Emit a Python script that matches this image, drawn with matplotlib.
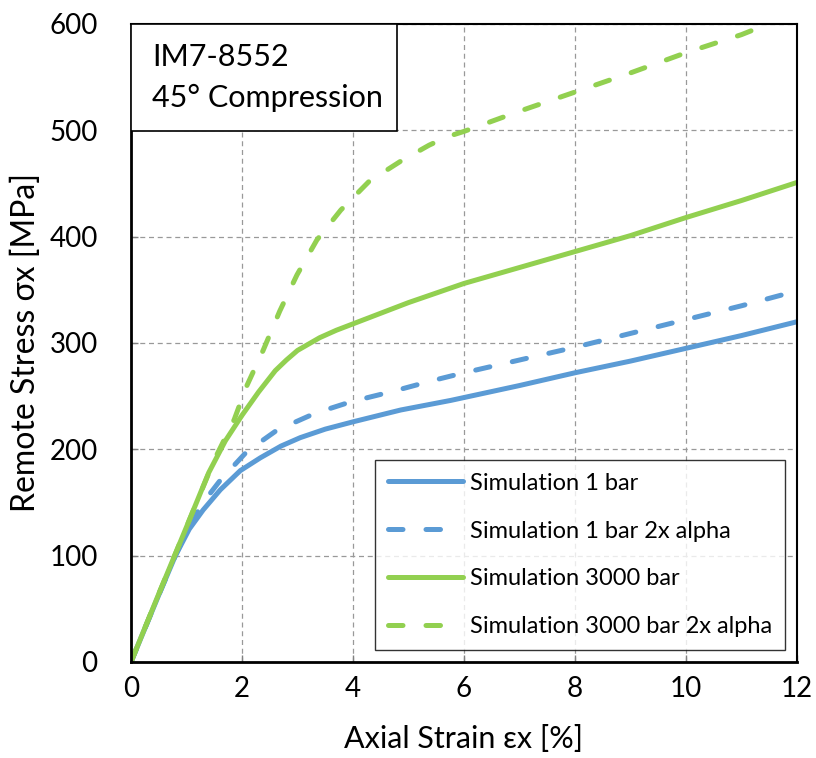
import matplotlib
matplotlib.use("Agg")
import matplotlib.pyplot as plt
from matplotlib.patches import Rectangle

plt.rcParams['font.family'] = ['Lato', 'DejaVu Sans']

# strain [%] and stress [MPa]
x_1bar = [0, 0.5, 0.8, 1.05, 1.3, 1.61, 1.97, 2.33, 2.7, 3.05, 3.5, 4.01, 4.86, 5.76, 7.0, 8.0, 9.0, 10.0, 11.0, 12.0]
y_1bar = [0, 63, 100, 125, 143, 162, 180, 192, 203, 211, 219, 226, 237, 246, 260, 272, 283, 295, 307, 320]

x_1bar_2a = [0, 0.5, 0.8, 1.05, 1.3, 1.61, 2.09, 2.63, 3.32, 3.98, 4.68, 5.46, 6.0, 7.0, 8.0, 9.0, 10.0, 11.0, 12.0]
y_1bar_2a = [0, 63, 100, 128, 150, 171, 198, 218, 234, 245, 254, 265, 272, 284, 296, 309, 322, 335, 349]

x_3000 = [0, 0.5, 1.0, 1.4, 1.7, 2.0, 2.3, 2.6, 2.8, 3.0, 3.2, 3.4, 3.7, 4.0, 4.5, 5.0, 5.5, 6.0, 7.0, 8.0, 9.0, 10.0, 11.0, 12.0]
y_3000 = [0, 64, 127, 178, 208, 232, 254, 274, 284, 293, 299, 305, 312, 318, 328, 338, 347, 356, 371, 386, 401, 418, 434, 451]

x_3000_2a = [0, 0.5, 1.0, 1.5, 1.86, 2.08, 2.38, 2.68, 2.99, 3.35, 3.78, 4.29, 4.86, 5.37, 5.7, 6.0, 7.0, 8.0, 9.0, 10.0, 11.0, 11.48]
y_3000_2a = [0, 64, 127, 190, 228, 259, 293, 330, 364, 397, 425, 452, 471, 486, 494, 499, 518, 536, 554, 573, 590, 600]

labels = ["Simulation 1 bar", "Simulation 1 bar 2x alpha",
          "Simulation 3000 bar", "Simulation 3000 bar 2x alpha"]
blue = "#5B9BD5"
green = "#92D050"

fig = plt.figure(figsize=(8.16, 7.58), dpi=100)
ax = fig.add_axes([131/816, 1 - 662/758, 666/816, 638/758])

lw = 3.6
dash = (2.9, 4.6)
ax.plot(x_1bar, y_1bar, color=blue, lw=lw, solid_capstyle='round', solid_joinstyle='round', label=labels[0])
ax.plot(x_1bar_2a, y_1bar_2a, color=blue, lw=lw, dashes=dash, dash_capstyle='round', label=labels[1])
ax.plot(x_3000, y_3000, color=green, lw=lw, solid_capstyle='round', solid_joinstyle='round', label=labels[2])
ax.plot(x_3000_2a, y_3000_2a, color=green, lw=lw, dashes=dash, dash_capstyle='round', label=labels[3])

ax.set_xlim(0, 12)
ax.set_ylim(0, 600)
ax.set_xticks(range(0, 13, 2))
ax.set_yticks(range(0, 601, 100))
ax.grid(True, color='#999999', lw=0.9, linestyle=(0, (4, 3)))
ax.set_axisbelow(True)

ax.tick_params(axis='both', direction='in', length=5, width=1, color='#808080', labelsize=20)
ax.tick_params(axis='y', pad=24)
ax.tick_params(axis='x', pad=10)

for s in ['left', 'bottom']:
    ax.spines[s].set_linewidth(2.0)
for s in ['top', 'right']:
    ax.spines[s].set_linewidth(1.5)

ax.set_xlabel("Axial Strain εx [%]", fontsize=22, labelpad=17)
ax.set_ylabel("Remote Stress σx [MPa]", fontsize=23, labelpad=6)

# material label box in the upper-left corner
ax.add_patch(Rectangle((0, 0.832), 0.4, 0.168, transform=ax.transAxes,
                       facecolor='white', edgecolor='black', lw=1.2, zorder=5))
ax.text(0.032, 0.934, "IM7-8552", transform=ax.transAxes,
        fontsize=22, va='baseline', ha='left', zorder=6)
ax.text(0.032, 0.870, "45° Compression", transform=ax.transAxes,
        fontsize=22, va='baseline', ha='left', zorder=6)

leg = ax.legend(loc='lower right', bbox_to_anchor=(0.982, 0.019), borderaxespad=0,
                fontsize=17, handlelength=3.2, handletextpad=0.3, labelspacing=1.14,
                borderpad=0.53, fancybox=False, frameon=True)
leg.get_frame().set_edgecolor('black')
leg.get_frame().set_linewidth(1.0)

fig.savefig("out.png", dpi=100)
